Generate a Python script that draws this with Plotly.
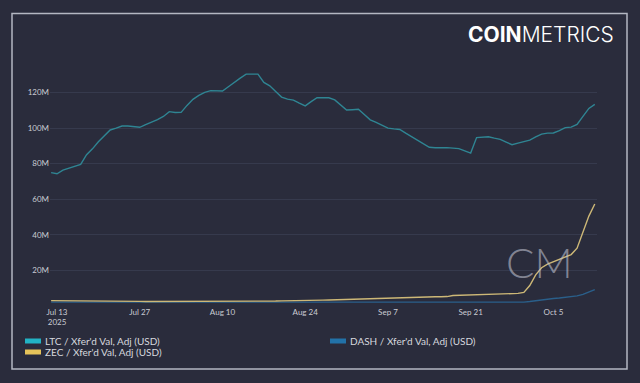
import plotly.graph_objects as go
import pandas as pd

dates = pd.date_range("2025-07-12", "2025-10-12", freq="D")

ltc = [74.9, 74.3, 76.3, 77.4, 78.7, 79.6, 85.0, 88.3, 92.3, 95.8, 98.9, 99.9, 101.1, 101.1, 100.9, 100.4,
       101.9, 103.2, 104.7, 106.5, 109.2, 108.7, 108.8, 112.7, 116.1, 118.3, 120.0, 121.0, 121.0, 120.8,
       123.2, 125.4, 128.0, 130.3, 130.3, 130.3, 125.6, 123.7, 120.5, 117.4, 116.2, 115.7, 114.0, 112.4,
       114.8, 117.0, 117.0, 117.0, 115.8, 112.8, 110.1, 110.3, 110.5, 107.6, 104.6, 103.2, 101.5, 99.9,
       99.5, 99.2, 97.1, 95.1, 93.0, 91.0, 89.2, 88.9, 89.1, 89.0, 88.7, 88.4, 87.2, 85.9, 94.6, 94.9,
       95.1, 94.3, 93.6, 92.1, 90.6, 91.5, 92.3, 93.2, 95.0, 96.6, 97.1, 97.2, 98.5, 100.2, 100.5, 102.0,
       106.5, 111.0, 113.3]

zec = [3.0, 3.0, 3.0, 2.9, 2.9, 2.9, 2.9, 2.8, 2.8, 2.8, 2.7, 2.7, 2.7, 2.6, 2.6, 2.6, 2.5, 2.5, 2.5, 2.5,
       2.4, 2.4, 2.4, 2.4, 2.4, 2.4, 2.4, 2.4, 2.4, 2.5, 2.5, 2.5, 2.6, 2.6, 2.6, 2.7, 2.7, 2.8, 2.8, 2.9,
       2.9, 3.0, 3.0, 3.1, 3.1, 3.2, 3.3, 3.4, 3.5, 3.6, 3.7, 3.8, 3.9, 4.0, 4.1, 4.3, 4.6, 4.8, 4.9, 4.9,
       5.0, 5.0, 5.0, 5.1, 5.1, 5.2, 5.2, 5.3, 5.9, 6.0, 6.0, 6.0, 6.1, 6.3, 6.5, 6.6, 6.7, 6.8, 6.9, 7.1,
       7.6, 11.5, 17.5, 21.5, 23.5, 24.8, 26.2, 27.5, 28.9, 32.5, 41.0, 50.5, 57.3]

dash = [2.2, 2.2, 2.2, 2.2, 2.2, 2.2, 2.2, 2.1, 2.1, 2.1, 2.1, 2.1, 2.1, 2.1, 2.1, 2.1, 2.1, 2.1, 2.0, 2.0,
        2.0, 2.0, 2.0, 2.0, 2.0, 2.0, 2.0, 2.0, 2.0, 2.0, 2.0, 2.0, 2.0, 2.0, 2.0, 2.0, 2.0, 2.0, 2.0, 2.0,
        2.0, 2.0, 2.0, 2.0, 2.0, 2.0, 2.0, 2.0, 2.0, 2.0, 2.0, 2.0, 2.0, 2.0, 2.0, 2.0, 2.0, 2.0, 2.0, 2.0,
        2.0, 2.0, 2.0, 2.0, 2.0, 2.0, 2.0, 2.0, 2.0, 2.0, 1.9, 1.9, 1.9, 1.9, 1.9, 1.9, 1.9, 1.9, 2.0, 2.1,
        2.2, 2.5, 3.0, 3.6, 3.9, 4.2, 4.5, 4.8, 5.2, 5.7, 6.5, 7.8, 9.2]

series_names = ["LTC / Xfer'd Val, Adj (USD)", "DASH / Xfer'd Val, Adj (USD)", "ZEC / Xfer'd Val, Adj (USD)"]
line_colors = ["#2f8593", "#2a5f8a", "#cdb877"]
swatch_colors = ["#22b3c4", "#2272a8", "#e6c35a"]
y_tickvals = [20e6, 40e6, 60e6, 80e6, 100e6, 120e6]
y_ticktext = ["20M", "40M", "60M", "80M", "100M", "120M"]

BG = "#2a2c3c"
W, H = 640, 383

fig = go.Figure()
for name, vals, col in [(series_names[1], dash, line_colors[1]),
                        (series_names[2], zec, line_colors[2]),
                        (series_names[0], ltc, line_colors[0])]:
    fig.add_trace(go.Scatter(x=dates, y=[v * 1e6 for v in vals], mode="lines", name=name,
                             line=dict(color=col, width=1.4), showlegend=False))

fig.update_layout(
    width=W, height=H,
    paper_bgcolor=BG, plot_bgcolor=BG,
    margin=dict(l=50, r=43, t=65, b=77),
    font=dict(family="Lato, sans-serif", color="#c9cbd3", size=8),
    xaxis=dict(range=["2025-07-11 19:30", "2025-10-12 09:00"], tick0="2025-07-13", dtick=14 * 86400000,
               showgrid=False, zeroline=False, showline=False, ticks="", tickfont=dict(size=8, color="#c9cbd3")),
    yaxis=dict(range=[0, 135.4e6], tickvals=y_tickvals, ticktext=y_ticktext, showgrid=True,
               gridcolor="#363a4d", gridwidth=1, zeroline=False, showline=False, ticks="",
               tickfont=dict(size=8, color="#c9cbd3")),
)

def px_x(x):
    return (x - 50) / 547

def px_y(y):
    return (306 - y) / 241

# outer border
fig.add_shape(type="rect", xref="paper", yref="paper",
              x0=px_x(12), x1=px_x(627), y0=px_y(369), y1=px_y(13.5),
              line=dict(color="#b4b7c2", width=1.5), fillcolor="rgba(0,0,0,0)", layer="below")

# legend (manual)
legend_pos = [(25, 341), (330, 341), (25, 352)]
for (lx, ly), name, col in zip(legend_pos, series_names, swatch_colors):
    fig.add_shape(type="rect", xref="paper", yref="paper",
                  x0=px_x(lx), x1=px_x(lx + 16), y0=px_y(ly + 2.5), y1=px_y(ly - 2.5),
                  fillcolor=col, line=dict(width=0))
    fig.add_annotation(x=px_x(lx + 18), y=px_y(ly), xref="paper", yref="paper", text=name,
                       showarrow=False, xanchor="left", yanchor="middle",
                       font=dict(family="Lato, sans-serif", size=10, color="#d6d8de"))

# logo
fig.add_annotation(x=px_x(616), y=px_y(34), xref="paper", yref="paper", text="<b>COIN</b>METRICS",
                   showarrow=False, xanchor="right", yanchor="middle",
                   font=dict(family="Inter, sans-serif", size=21, color="#ffffff", weight=300))

# watermark
fig.add_annotation(x=px_x(539), y=px_y(262), xref="paper", yref="paper", text="CM", showarrow=False,
                   xanchor="center", yanchor="middle",
                   font=dict(family="Lato, sans-serif", size=42, color="rgba(190,192,205,0.6)", weight=300))

fig.write_html("out.html", config={"displayModeBar": False},
               post_script="document.body.style.margin='0';")
